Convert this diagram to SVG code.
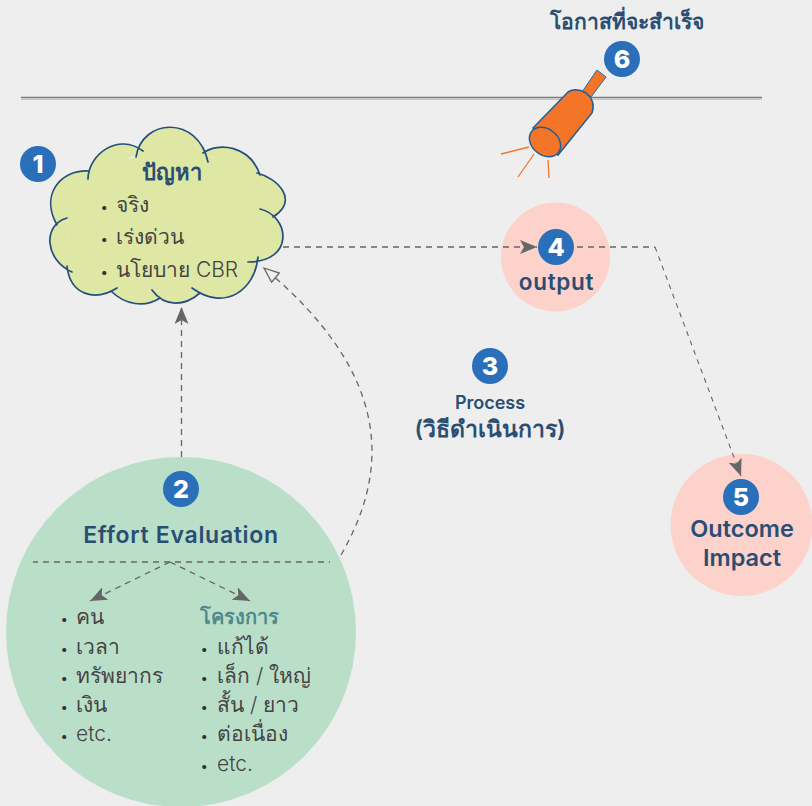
<svg xmlns="http://www.w3.org/2000/svg" width="812" height="806" viewBox="0 0 812 806">
<style>
text{font-family:"Inter","Noto Sans","DejaVu Sans",sans-serif}
.b{fill:#2a6fb9}
.n{font-size:25px;font-weight:800;fill:#fff;text-anchor:middle}
.h{fill:#2a4e73;font-weight:600;text-anchor:middle}
.s{letter-spacing:.7px}
.t{font-size:21px;fill:#444;font-weight:300}
.u{font-size:15px;fill:#333}
.d{fill:none;stroke:#666;stroke-width:1.3;stroke-dasharray:6 5}
.e{fill:none;stroke:#666;stroke-width:1.1;stroke-dasharray:5 5}
.r{stroke:#f47528;stroke-width:1.3;fill:none}
</style>
<defs>
<marker id="a" markerUnits="userSpaceOnUse" markerWidth="18" markerHeight="14" refX="17" refY="7" orient="auto"><path d="M0 0L17 7L0 14L4 7Z" fill="#666"/></marker>
<marker id="o" markerUnits="userSpaceOnUse" markerWidth="18" markerHeight="14" refX="16" refY="7" orient="auto"><path d="M1 1L16 7L1 13Z" fill="#eee" stroke="#666" stroke-width="1.3"/></marker>
</defs>
<rect width="812" height="806" fill="#eee"/>
<g id="divider"><path d="M21 97.500H762" stroke="#7d7d7d" stroke-width="1.400"/><path d="M21 99.300H762" stroke="#c6c6c6" stroke-width="1.600"/></g>
<g id="node-2"><circle cx="181" cy="632" r="175" fill="#badfc9"/></g>
<g id="node-4"><circle cx="555.500" cy="257" r="54.500" fill="#fcd2cb"/></g>
<g id="node-5"><circle cx="741.500" cy="525" r="71" fill="#fcd2cb"/></g>
<g id="connectors">
<path class="d" d="M283 247H537" marker-end="url(#a)"/>
<path class="d" d="M577 247H655"/>
<path class="e" d="M655 247L741 476" marker-end="url(#a)"/>
<path class="d" d="M181.500 457V307" marker-end="url(#a)"/>
<path class="d" d="M341 555C390 470 392 375 264 268" marker-end="url(#o)"/>
<path class="d" stroke-dashoffset="1" d="M33 562H330"/>
<path class="d" d="M170 562L90 601" marker-end="url(#a)"/>
<path class="d" d="M170 562L250 601" marker-end="url(#a)"/>
</g>
<g id="node-1">
<path d="M57 225L88 171L136 157L143 151L203 153L260 175L273 217L275 240L248 262L258 257L192 288L200 293L152 290L160 298L111 291L117 288L67 266L72 272L67 218Z" fill="#dee8a4"/>
<path fill="#dee8a4" stroke="none" d="M88 179C88 155 118 132 143 151M136 157C142 118 198 115 208 162M203 153C218 142 250 145 260 175M257 173C277 178 300 200 273 217M260 209C290 216 295 262 248 262M258 257C255 290 225 312 192 288M200 293C185 306 165 308 152 290M160 298C145 308 125 305 111 291M117 288C95 302 70 295 67 266M72 272C45 260 42 225 67 218M57 225C40 195 60 170 88 171"/>
<path fill="none" stroke="#244f7c" stroke-width="1.700" stroke-linecap="round" d="M88 179C88 155 118 132 143 151M136 157C142 118 198 115 208 162M203 153C218 142 250 145 260 175M257 173C277 178 300 200 273 217M260 209C290 216 295 262 248 262M258 257C255 290 225 312 192 288M200 293C185 306 165 308 152 290M160 298C145 308 125 305 111 291M117 288C95 302 70 295 67 266M72 272C45 260 42 225 67 218M57 225C40 195 60 170 88 171"/>
<circle class="b" cx="38" cy="164" r="18"/><text class="n" x="38" y="173">1</text>
<text class="h" x="172" y="180" font-size="22" font-weight="700">ปัญหา</text>
<text class="t" y="212"><tspan class="u" x="100">•</tspan><tspan x="116">จริง</tspan></text>
<text class="t" y="244"><tspan class="u" x="100">•</tspan><tspan x="116">เร่งด่วน</tspan></text>
<text class="t" y="277"><tspan class="u" x="100">•</tspan><tspan x="116">นโยบาย CBR</tspan></text>
</g>
<g id="node-2-content">
<circle class="b" cx="181" cy="489" r="18"/><text class="n" x="181" y="498">2</text>
<text class="h s" x="181" y="543" font-size="23">Effort Evaluation</text>
<text class="t" y="624"><tspan class="u" x="60">•</tspan><tspan x="76">คน</tspan></text>
<text class="t" y="654"><tspan class="u" x="60">•</tspan><tspan x="76">เวลา</tspan></text>
<text class="t" y="683"><tspan class="u" x="60">•</tspan><tspan x="76">ทรัพยากร</tspan></text>
<text class="t" y="712"><tspan class="u" x="60">•</tspan><tspan x="76">เงิน</tspan></text>
<text class="t" y="741"><tspan class="u" x="60">•</tspan><tspan x="76">etc.</tspan></text>
<text x="200" y="624" font-size="20" font-weight="700" fill="#4f8a8b">โครงการ</text>
<text class="t" y="654"><tspan class="u" x="200">•</tspan><tspan x="217">แก้ได้</tspan></text>
<text class="t" y="683"><tspan class="u" x="200">•</tspan><tspan x="217">เล็ก / ใหญ่</tspan></text>
<text class="t" y="712"><tspan class="u" x="200">•</tspan><tspan x="217">สั้น / ยาว</tspan></text>
<text class="t" y="741"><tspan class="u" x="200">•</tspan><tspan x="217">ต่อเนื่อง</tspan></text>
<text class="t" y="771"><tspan class="u" x="200">•</tspan><tspan x="217">etc.</tspan></text>
</g>
<g id="node-3">
<circle class="b" cx="490" cy="366" r="18"/><text class="n" x="490" y="375">3</text>
<text class="h" x="490" y="409" font-size="18">Process</text>
<text class="h" x="490" y="437" font-size="23">(วิธีดำเนินการ)</text>
</g>
<g id="node-4-content">
<circle class="b" cx="556" cy="247" r="18"/><text class="n" x="556" y="256">4</text>
<text class="h s" x="556.500" y="290" font-size="22.500">output</text>
</g>
<g id="node-5-content">
<circle class="b" cx="741" cy="497" r="18"/><text class="n" x="741" y="506">5</text>
<text class="h" x="742" y="537" font-size="23.500">Outcome</text>
<text class="h" x="742" y="566" font-size="23.500">Impact</text>
</g>
<g id="node-6">
<text class="h" x="627" y="29" font-size="21">โอกาสที่จะสำเร็จ</text>
<circle class="b" cx="622" cy="59" r="18"/><text class="n" x="622" y="68">6</text>
<path d="M582 92L597 70L606 77L591 97Z" fill="#f47528" stroke="#1f6aa5" stroke-width="1"/>
<path d="M533 128L568 92Q576 87 586 93Q596 101 592 113L558 155Z" fill="#f47528" stroke="#1f5f95" stroke-width="1.500"/>
<ellipse cx="545" cy="142" rx="17" ry="13" transform="rotate(38 545 142)" fill="#f47528" stroke="#1f5f95" stroke-width="1.500"/>
<path class="r" d="M501 154L529 147M518 177L534 154M549 178L548 160"/>
</g>
</svg>
